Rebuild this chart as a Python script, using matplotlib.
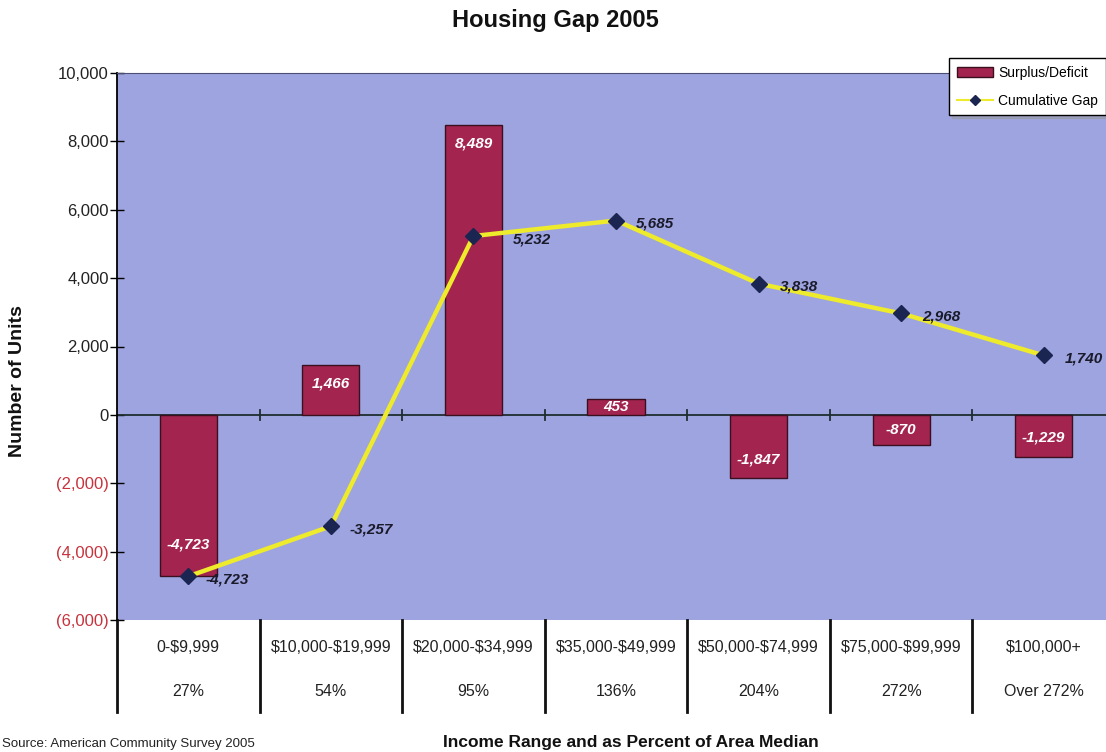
import numpy as np
import matplotlib.pyplot as plt
from matplotlib.ticker import FuncFormatter
from matplotlib.lines import Line2D
from matplotlib.patches import Patch
import matplotlib.transforms as mtransforms

plt.rcParams['font.family'] = ['Liberation Sans', 'DejaVu Sans']
plt.rcParams['text.parse_math'] = False

# income brackets and the share of area median they represent
ranges = ["0-$9,999", "$10,000-$19,999", "$20,000-$34,999", "$35,000-$49,999",
          "$50,000-$74,999", "$75,000-$99,999", "$100,000+"]
pct_median = ["27%", "54%", "95%", "136%", "204%", "272%", "Over 272%"]
surplus = [-4723, 1466, 8489, 453, -1847, -870, -1229]
cumulative = [-4723, -3257, 5232, 5685, 3838, 2968, 1740]

bg = '#9ea4df'
bar_col = '#a3244f'
line_col = '#eeea2c'
marker_col = '#1b2552'
neg_col = '#c8323c'

fig = plt.figure(figsize=(11.06, 7.52), dpi=100)
ax = fig.add_axes([117 / 1106, 1 - 620 / 752, 998 / 1106, 547 / 752])
ax.set_facecolor(bg)

x = np.arange(len(ranges))
bars = ax.bar(x, surplus, width=0.4, color=bar_col, edgecolor='#3a1020', linewidth=1, zorder=3)
ax.plot(x, cumulative, color=line_col, lw=3.2, marker='D', markersize=8.5,
        markerfacecolor=marker_col, markeredgecolor=marker_col, zorder=4)

ax.set_xlim(-0.5, len(ranges) - 0.5)
ax.set_ylim(-6000, 10000)
ax.set_yticks(np.arange(-6000, 10001, 2000))
ax.yaxis.set_major_formatter(FuncFormatter(
    lambda v, p: f"{v:,.0f}" if v >= 0 else f"({-v:,.0f})"))
ax.tick_params(axis='y', direction='inout', length=10, width=1, labelsize=12, pad=1)
for lbl, v in zip(ax.get_yticklabels(), ax.get_yticks()):
    lbl.set_color(neg_col if v < 0 else '#222222')
ax.set_xticks([])

for side in ['right', 'bottom']:
    ax.spines[side].set_visible(False)
ax.spines['top'].set_color('#4a4f7a')
ax.spines['top'].set_linewidth(0.8)
ax.spines['left'].set_linewidth(1.3)

# zero line with category ticks
ax.axhline(0, color='#1e2e2e', lw=1.3, zorder=2)
for b in np.arange(0.5, len(ranges) - 0.5):
    ax.plot([b, b], [-150, 150], color='#1e2e2e', lw=1.3, zorder=2)

# category table under the plot
trans = mtransforms.blended_transform_factory(ax.transData, ax.transAxes)
low = -(712 - 620) / 547
for b in np.arange(-0.5, len(ranges)):
    ax.plot([b, b], [0, low], transform=trans, color='#111111', lw=2, clip_on=False)
for i in range(len(ranges)):
    ax.text(i, -(648 - 620) / 547, ranges[i], transform=trans, ha='center', va='center',
            fontsize=11.5, color='#222222')
    ax.text(i, -(692 - 620) / 547, pct_median[i], transform=trans, ha='center', va='center',
            fontsize=11.5, color='#222222')

# value labels inside bar ends
px_per_unit = 547 / 16000
for i, v in enumerate(surplus):
    h = abs(v) * px_per_unit
    off = min(19, h / 2)
    if i == 0:
        off = 32
    ax.annotate(f"{v:,}", (i, v), xytext=(0, -off if v > 0 else off),
                textcoords='offset pixels', ha='center', va='center',
                color='white', fontsize=11, fontweight='bold', fontstyle='italic', zorder=5)

# running total labels, pushed right of the marker
label_dx = [17, 19, 39, 20, 21, 21, 21]
for i, v in enumerate(cumulative):
    ax.annotate(f"{v:,}", (i, v), xytext=(label_dx[i], -3), textcoords='offset pixels',
                ha='left', va='center', color='#1a1a2a', fontsize=11,
                fontweight='bold', fontstyle='italic', zorder=5)

fig.text(555 / 1106, 1 - 20 / 752, "Housing Gap 2005", ha='center', va='center',
         fontsize=17, fontweight='bold', color='#111111')
fig.text(18 / 1106, 1 - 381 / 752, "Number of Units", rotation=90, ha='center', va='center',
         fontsize=14, fontweight='bold', color='#111111')
fig.text(631 / 1106, 1 - 742 / 752, "Income Range and as Percent of Area Median",
         ha='center', va='center', fontsize=12.5, fontweight='bold', color='#111111')
fig.text(2 / 1106, 1 - 738 / 752, "Source: American Community Survey 2005",
         ha='left', va='top', fontsize=9.5, color='#222222')

handles = [Patch(facecolor=bar_col, edgecolor='#3a1020'),
           Line2D([], [], color=line_col, lw=1.5, marker='D', markersize=5,
                  markerfacecolor=marker_col, markeredgecolor=marker_col)]
leg = fig.legend(handles, ["Surplus/Deficit", "Cumulative Gap"], loc='upper left',
                 bbox_to_anchor=(945 / 1106, 1 - 54 / 752), fontsize=10, frameon=True,
                 fancybox=False, edgecolor='black', framealpha=1, borderpad=0.55,
                 borderaxespad=0.3, handlelength=2.6, handletextpad=0.4, labelspacing=1.0,
                 shadow={'color': '0.6'})
leg.get_frame().set_linewidth(1)

fig.savefig('out.png', dpi=100)
